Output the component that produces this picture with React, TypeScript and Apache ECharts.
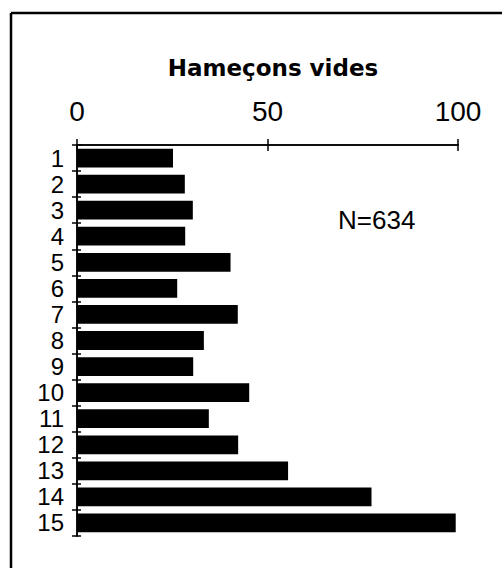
import React, { useEffect, useRef } from "react";
import * as echarts from "echarts";

const categories = ["1", "2", "3", "4", "5", "6", "7", "8", "9", "10", "11", "12", "13", "14", "15"];
const values = [25.2, 28.3, 30.4, 28.4, 40.3, 26.3, 42.2, 33.3, 30.5, 45.2, 34.6, 42.3, 55.4, 77.3, 99.4];
const xTicks = [0, 50, 100];
const title = "Hameçons vides";
const note = "N=634";

export default function App() {
  const ref = useRef<HTMLDivElement>(null);
  useEffect(() => {
    if (!ref.current) return;
    const chart = echarts.init(ref.current, null, { renderer: "svg" });
    const grid = { left: 77, top: 145, right: 44, bottom: 32 };
    const xBase = {
      type: "value" as const,
      min: xTicks[0],
      max: xTicks[xTicks.length - 1],
      interval: 50,
      position: "top" as const,
      splitLine: { show: false },
      axisLine: { show: true, lineStyle: { color: "#000", width: 1.5 } },
    };
    const yBase = {
      type: "category" as const,
      data: categories,
      inverse: true,
      axisLine: { show: true, lineStyle: { color: "#000", width: 1.5 } },
    };
    chart.setOption({
      animation: false,
      backgroundColor: "#fff",
      grid,
      title: {
        text: title,
        left: 268,
        top: 63,
        textAlign: "center",
        textVerticalAlign: "middle",
        textStyle: { fontFamily: "DejaVu Sans", fontWeight: "bold", fontSize: 23, color: "#000" },
      },
      xAxis: [
        {
          ...xBase,
          axisTick: { show: true, inside: false, length: 6, lineStyle: { color: "#000", width: 1.5 } },
          axisLabel: {
            show: true,
            margin: 20,
            fontFamily: "Liberation Sans",
            fontSize: 28,
            color: "#000",
          },
        },
        {
          ...xBase,
          axisTick: { show: true, inside: true, length: 6, lineStyle: { color: "#000", width: 1.5 } },
          axisLabel: { show: false },
        },
      ],
      yAxis: [
        {
          ...yBase,
          axisTick: { show: true, inside: false, length: 5, interval: 0, lineStyle: { color: "#000", width: 1.5 } },
          axisLabel: {
            show: true,
            interval: 0,
            margin: 13,
            fontFamily: "Liberation Sans",
            fontSize: 24,
            lineHeight: 25,
            color: "#000",
          },
        },
        {
          ...yBase,
          position: "left",
          axisTick: { show: true, inside: true, length: 4, interval: 0, lineStyle: { color: "#000", width: 1.5 } },
          axisLabel: { show: false },
        },
      ],
      series: [
        {
          type: "bar",
          data: values,
          xAxisIndex: 0,
          yAxisIndex: 0,
          barCategoryGap: "28%",
          itemStyle: { color: "#000" },
        },
      ],
      graphic: [
        {
          type: "text",
          left: 338,
          top: 207,
          style: { text: note, fontFamily: "Liberation Sans", fontSize: 26, fill: "#000" },
        },
        {
          type: "line",
          shape: { x1: 11, y1: 13, x2: 502, y2: 13 },
          style: { stroke: "#000", lineWidth: 2.5 },
        },
        {
          type: "line",
          shape: { x1: 11, y1: 13, x2: 11, y2: 568 },
          style: { stroke: "#000", lineWidth: 2.5 },
        },
      ],
    });
    return () => chart.dispose();
  }, []);
  return (
    <div
      ref={ref}
      style={{ position: "fixed", left: 0, top: 0, width: 502, height: 568, background: "#fff" }}
    />
  );
}
